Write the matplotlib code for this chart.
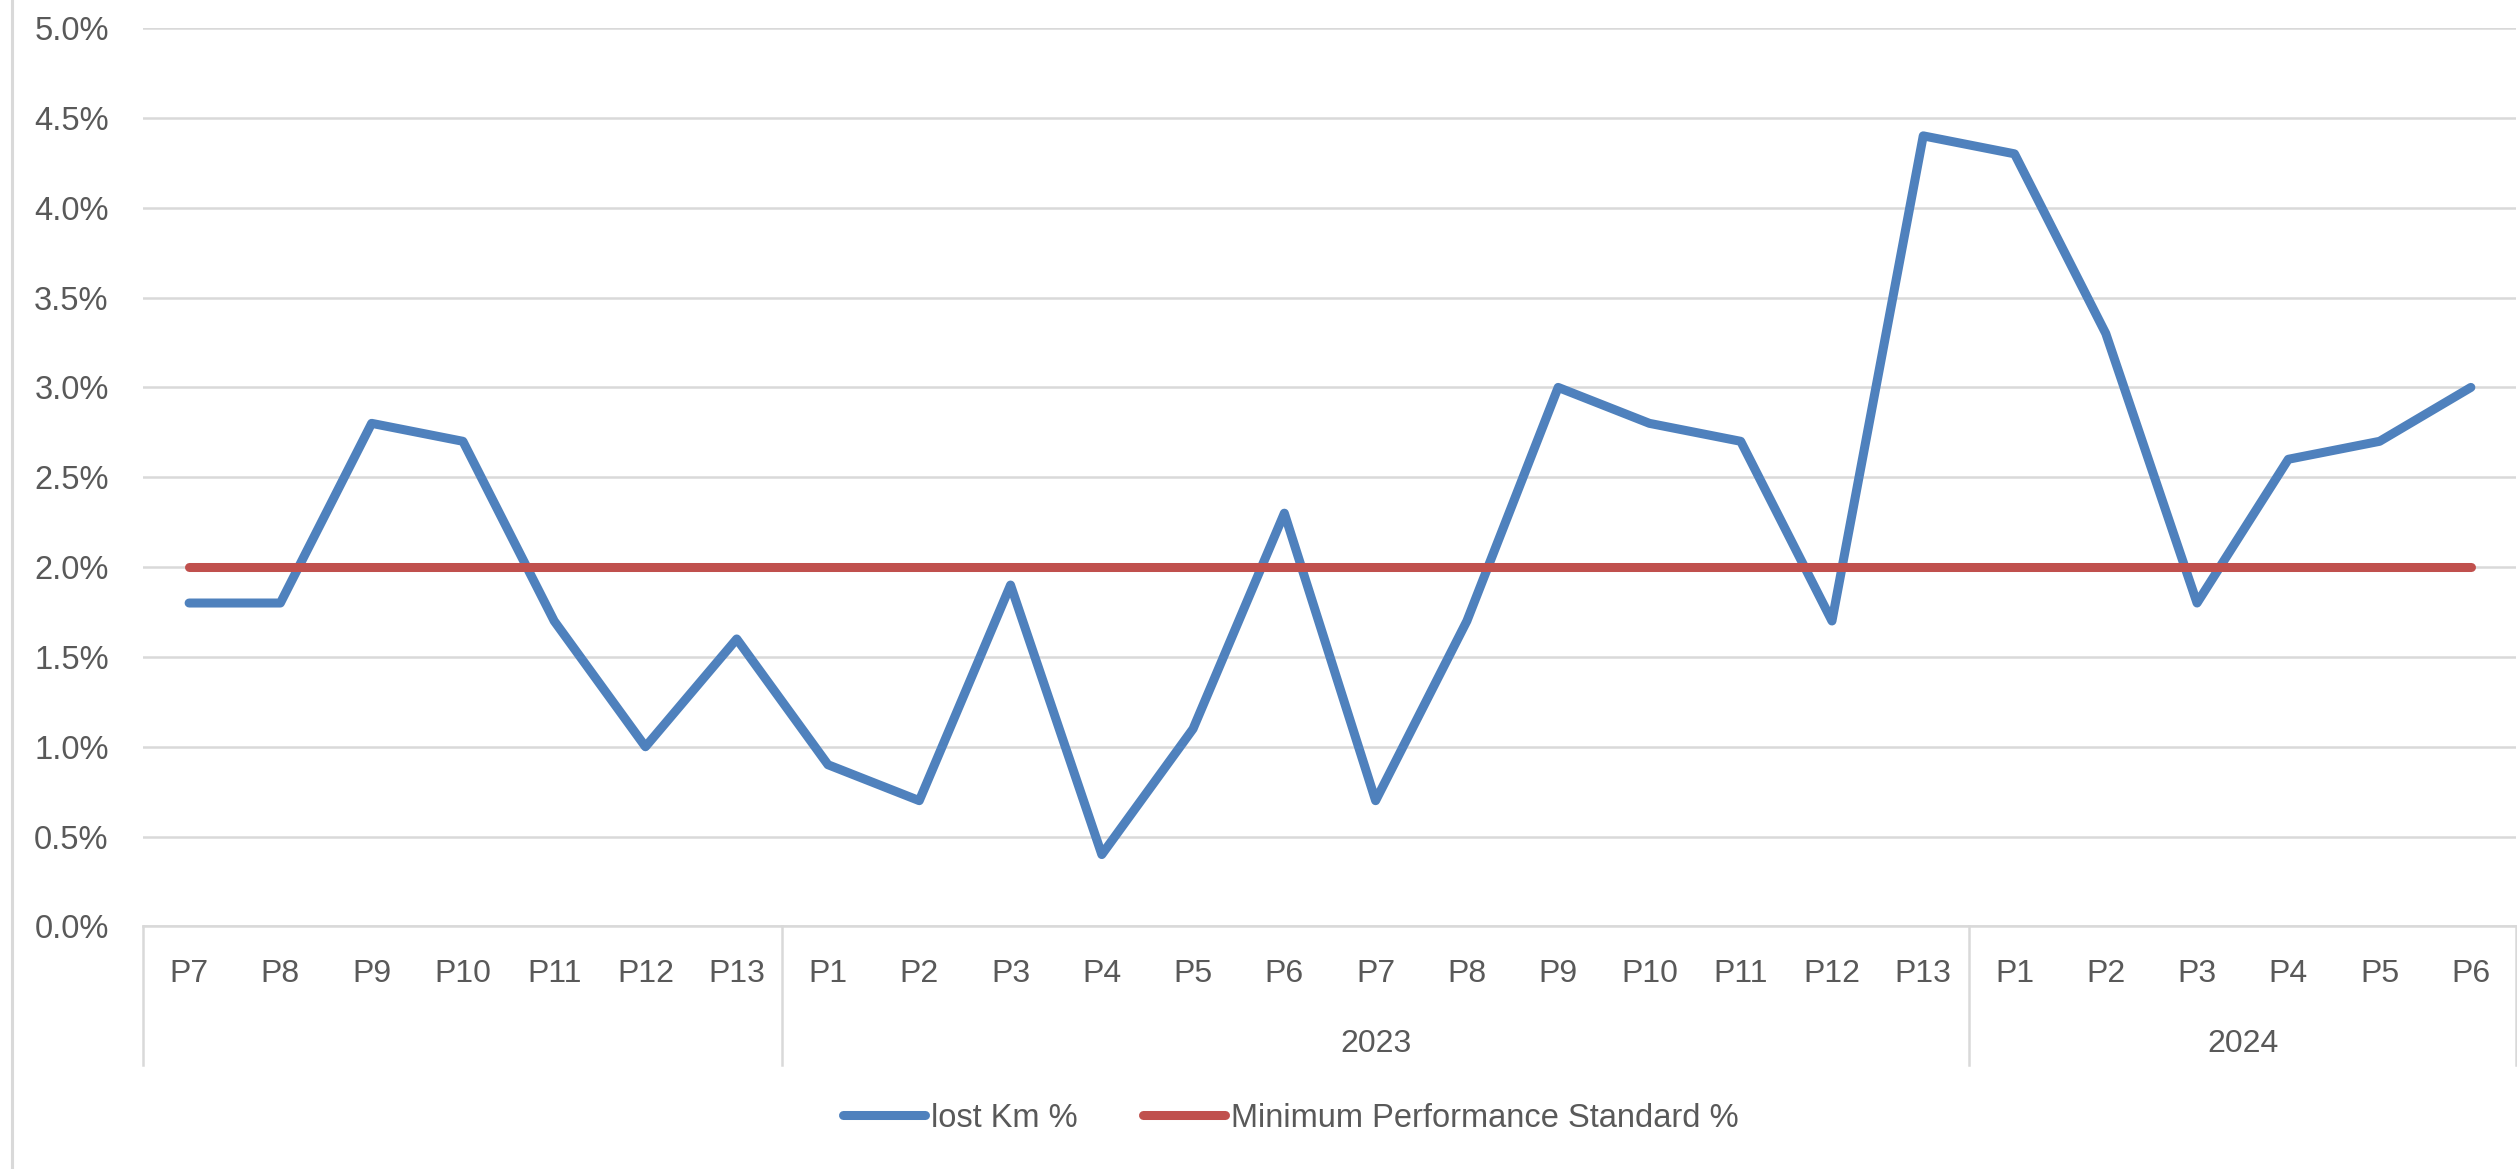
import numpy as np
import matplotlib.pyplot as plt
from matplotlib.transforms import blended_transform_factory

periods = ['P7', 'P8', 'P9', 'P10', 'P11', 'P12', 'P13',
           'P1', 'P2', 'P3', 'P4', 'P5', 'P6', 'P7', 'P8', 'P9', 'P10', 'P11', 'P12', 'P13',
           'P1', 'P2', 'P3', 'P4', 'P5', 'P6']
years = ['', '2023', '2024']
year_sizes = [7, 13, 6]
lost_km = [1.8, 1.8, 2.8, 2.7, 1.7, 1.0, 1.6,
           0.9, 0.7, 1.9, 0.4, 1.1, 2.3, 0.7, 1.7, 3.0, 2.8, 2.7, 1.7, 4.4,
           4.3, 3.3, 1.8, 2.6, 2.7, 3.0]
min_standard = [2.0] * len(periods)

plt.rcParams['font.family'] = ['Liberation Sans', 'DejaVu Sans']
txt = '#595959'
grid = '#D9D9D9'

fig = plt.figure(figsize=(25.17, 11.69), dpi=100)
ax = fig.add_axes([0.057, 0.2075, 0.9428, 0.7685])

x = np.arange(len(periods))
ax.plot(x, lost_km, color='#4F81BD', lw=6.5, solid_capstyle='round',
        solid_joinstyle='round', label='lost Km %', zorder=3)
ax.plot(x, min_standard, color='#C0504D', lw=6.5, solid_capstyle='round',
        label='Minimum Performance Standard %', zorder=3)

ax.set_xlim(-0.5, len(periods) - 0.5)
ax.set_ylim(0, 5.0)
ax.set_yticks(np.arange(0, 5.01, 0.5))
ax.set_yticklabels(['%.1f%%' % v for v in np.arange(0, 5.01, 0.5)])
ax.tick_params(axis='y', length=0, pad=25, labelsize=23.5, labelcolor=txt)
ax.set_xticks([])
ax.grid(axis='y', color=grid, lw=1.8)
ax.set_axisbelow(True)
for s in ['top', 'right', 'left']:
    ax.spines[s].set_visible(False)
ax.spines['bottom'].set_color(grid)
ax.spines['bottom'].set_linewidth(1.8)

# two-level category axis
tr = blended_transform_factory(ax.transData, ax.transAxes)
for i, p in enumerate(periods):
    ax.text(i, -0.0524, p, transform=tr, ha='center', va='center',
            fontsize=23, color=txt)
start = -0.5
edges = [start]
for yr, n in zip(years, year_sizes):
    ax.text(start + n / 2, -0.1304, yr, transform=tr, ha='center', va='center',
            fontsize=23, color=txt)
    start += n
    edges.append(start)
for e in edges:
    ax.plot([e, e], [0, -0.1538], transform=tr, color=grid, lw=1.8, clip_on=False)

# chart border on the left
fig.add_artist(plt.Line2D([12 / 2517, 12 / 2517], [0, 1], color=grid, lw=2.2))

fig.legend(loc='center', bbox_to_anchor=(0.513, 0.0436), ncol=2, frameon=False,
           fontsize=23.5, labelcolor=txt, handlelength=2.5, handletextpad=0.2,
           columnspacing=2.0)

plt.savefig('out.png', dpi=100)
